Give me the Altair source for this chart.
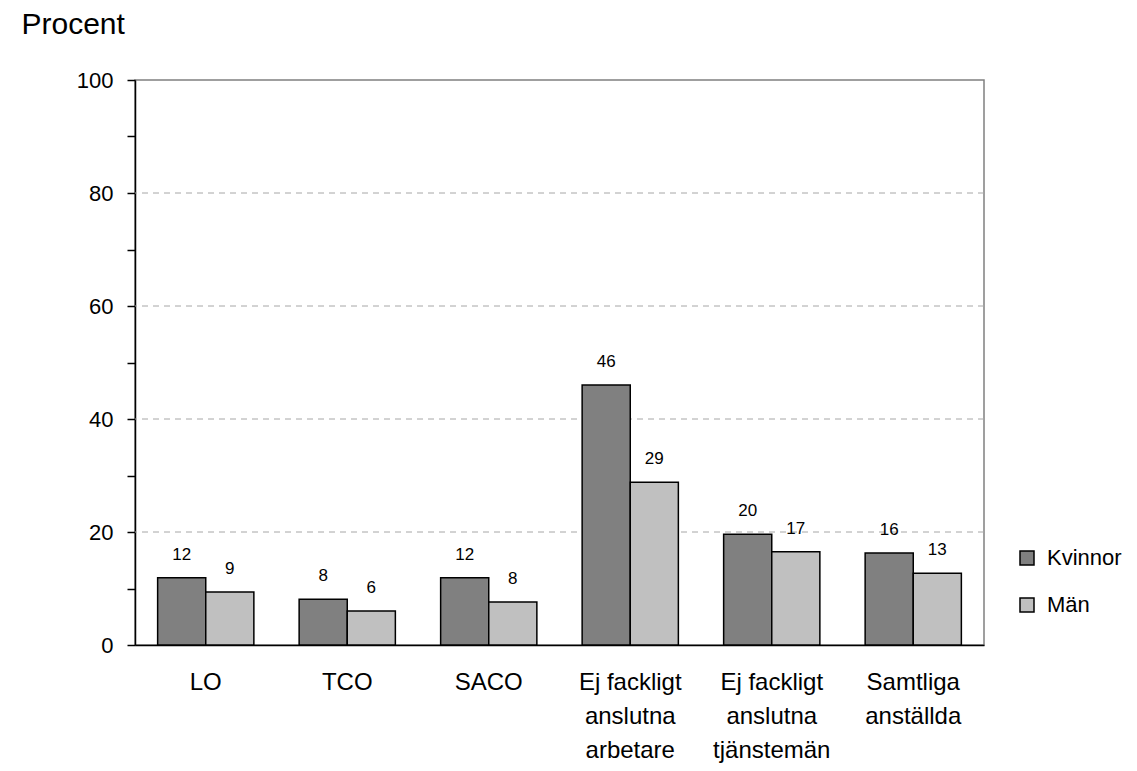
import altair as alt
import pandas as pd

categories = ["LO", "TCO", "SACO",
              "Ej fackligt\nanslutna\narbetare",
              "Ej fackligt\nanslutna\ntjänstemän",
              "Samtliga\nanställda"]
series = ["Kvinnor", "Män"]
kvinnor = [11.9, 8.1, 11.9, 46.0, 19.6, 16.3]
man = [9.4, 6.0, 7.6, 28.8, 16.5, 12.7]
kvinnor_labels = ["12", "8", "12", "46", "20", "16"]
man_labels = ["9", "6", "8", "29", "17", "13"]
colors = ["#808080", "#c0c0c0"]
grid_values = [20, 40, 60, 80]
y_ticks = list(range(0, 101, 10))

rows = []
for i, c in enumerate(categories):
    rows.append({"cat": c, "serie": series[0], "value": kvinnor[i], "label": kvinnor_labels[i]})
    rows.append({"cat": c, "serie": series[1], "value": man[i], "label": man_labels[i]})
df = pd.DataFrame(rows)
grid_df = pd.DataFrame({"v": grid_values})

yscale = alt.Scale(domain=[0, 100], nice=False)
xaxis = alt.Axis(title=None, labelExpr="split(datum.label, '\\n')",
                 labelFontSize=24, labelLineHeight=34, labelPadding=25,
                 ticks=False, domainColor="black", domainWidth=1.5,
                 labelAngle=0, labelBaseline="top", labelColor="black")
xenc = alt.X("cat:N", sort=categories,
             scale=alt.Scale(paddingInner=0.32, paddingOuter=0.16), axis=xaxis)
xoff = alt.XOffset("serie:N", sort=series, scale=alt.Scale(paddingInner=0, paddingOuter=0))

yaxis = alt.Axis(values=y_ticks, labelExpr="datum.value % 20 == 0 ? datum.label : ''",
                 tickSize=8, tickColor="black", tickWidth=1.5,
                 domainColor="black", domainWidth=1.5, grid=False,
                 labelFontSize=22, labelPadding=14, labelColor="black",
                 titleAngle=0, titleAlign="left", titleBaseline="alphabetic",
                 titleX=-114, titleY=-47, titleFontSize=30, titleFontWeight="normal",
                 titleColor="black")

grid = alt.Chart(grid_df).mark_rule(strokeDash=[6, 5], color="#a6a6a6", strokeWidth=1).encode(
    y=alt.Y("v:Q", scale=yscale, title="Procent", axis=yaxis)
)

bars = alt.Chart(df).mark_bar(stroke="black", strokeWidth=1.5).encode(
    x=xenc,
    xOffset=xoff,
    y=alt.Y("value:Q", scale=yscale, title="Procent", axis=yaxis),
    color=alt.Color("serie:N", sort=series,
                    scale=alt.Scale(domain=series, range=colors),
                    legend=alt.Legend(title=None, orient="none", legendX=881, legendY=467,
                                      symbolType="square", symbolSize=196,
                                      symbolStrokeColor="black", symbolStrokeWidth=1.5,
                                      symbolOpacity=1,
                                      labelFontSize=22, labelColor="black",
                                      rowPadding=25, labelOffset=9)),
)

texts = alt.Chart(df).mark_text(dy=-18, baseline="alphabetic", fontSize=17, color="black").encode(
    x=alt.X("cat:N", sort=categories, axis=xaxis),
    xOffset=xoff,
    y=alt.Y("value:Q", scale=yscale, title="Procent", axis=yaxis),
    text="label:N",
)

chart = alt.layer(grid, bars, texts).properties(
    width=849, height=565,
    autosize=alt.AutoSizeParams(type="none"),
    padding={"left": 127, "top": 72, "right": 140, "bottom": 118},
    background="white",
).configure(font="Liberation Sans").configure_view(
    stroke="#808080", strokeWidth=1.5
)

chart.save("out.html", embed_options={"renderer": "svg", "actions": False})
